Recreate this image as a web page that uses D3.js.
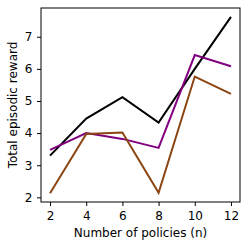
<!DOCTYPE html>
<html>
<head>
<meta charset="utf-8">
<script src="https://cdn.jsdelivr.net/npm/d3@7"></script>
<style>
body { margin: 0; background: #fff; }
</style>
</head>
<body>
<div id="chart"></div>
<script>
var width = 249,
height = 248;

// data
var policies = [2, 4, 6, 8, 10, 12];
var seriesBlack = [3.30, 4.45, 5.12, 4.33, 6.00, 7.62];
var seriesPurple = [3.48, 4.00, 3.82, 3.54, 6.43, 6.08];
var seriesBrown = [2.13, 3.97, 4.02, 2.14, 5.76, 5.22];
var xTicks = [2, 4, 6, 8, 10, 12];
var yTicks = [2, 3, 4, 5, 6, 7];

var series = [
    {name: "black", color: "#000000", values: seriesBlack},
    {name: "purple", color: "#800080", values: seriesPurple},
    {name: "brown", color: "#8b4513", values: seriesBrown}
];

var mLeft = 41, mRight = 240, mTop = 8, mBottom = 202;

var svg = d3.select('#chart').append('svg')
    .attr('width', width)
    .attr('height', height)
    .attr('font-family', 'DejaVu Sans, sans-serif');

// matplotlib-like 5% margins
var allY = [].concat(seriesBlack, seriesPurple, seriesBrown);
var yMin = d3.min(allY), yMax = d3.max(allY);
var yPad = (yMax - yMin) * 0.05;
var xPad = (d3.max(policies) - d3.min(policies)) * 0.05;

let scaleX = d3.scaleLinear()
    .domain([d3.min(policies) - xPad, d3.max(policies) + xPad])
    .range([mLeft, mRight]);
let scaleY = d3.scaleLinear()
    .domain([yMin - yPad, yMax + yPad])
    .range([mBottom, mTop]);

var lineFunc = d3.line()
    .x(function(d, i) { return scaleX(policies[i]); })
    .y(function(d) { return scaleY(d); });

var g = svg.append('g');
g.selectAll('.serie').data(series).enter().append('path')
    .attr('class', 'serie')
    .attr('fill', 'none')
    .attr('stroke', d => d.color)
    .attr('stroke-width', 2)
    .attr('d', d => lineFunc(d.values));

// axes
var axisX = d3.axisBottom(scaleX).tickValues(xTicks).tickFormat(d3.format('d'))
    .tickSize(4).tickPadding(5.5);
var axisY = d3.axisLeft(scaleY).tickValues(yTicks).tickFormat(d3.format('d'))
    .tickSize(4).tickPadding(4.5);

var gx = svg.append('g').attr('transform', 'translate(0,' + mBottom + ')').call(axisX);
var gy = svg.append('g').attr('transform', 'translate(' + mLeft + ',0)').call(axisY);
[gx, gy].forEach(a => {
    a.select('.domain').remove();
    a.selectAll('text').attr('font-size', 12).attr('fill', '#000')
        .attr('font-family', 'DejaVu Sans, sans-serif');
    a.selectAll('line').attr('stroke', '#000').attr('stroke-width', 1);
});

// frame
svg.append('rect')
    .attr('x', mLeft).attr('y', mTop)
    .attr('width', mRight - mLeft).attr('height', mBottom - mTop)
    .attr('fill', 'none').attr('stroke', '#000').attr('stroke-width', 1);

svg.append('text')
    .attr('x', (mLeft + mRight) / 2).attr('y', 237)
    .attr('text-anchor', 'middle').attr('font-size', 12)
    .text('Number of policies (n)');

svg.append('text')
    .attr('transform', 'translate(17,' + ((mTop + mBottom) / 2) + ') rotate(-90)')
    .attr('text-anchor', 'middle').attr('font-size', 12)
    .text('Total episodic reward');
</script>
</body>
</html>
